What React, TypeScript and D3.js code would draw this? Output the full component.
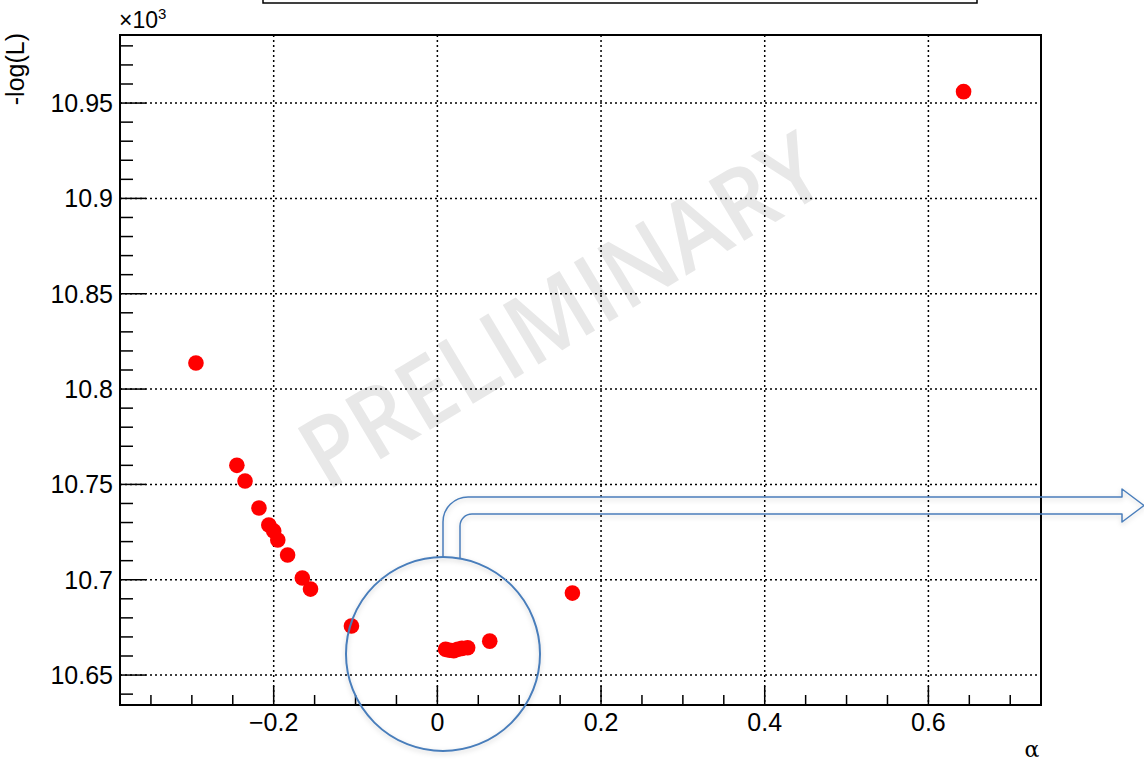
import React, { useEffect, useRef } from 'react';
import * as d3 from 'd3';

// scan points: alpha vs -log(L) (in units of 10^3)
const alphaValues = [
  0.643, -0.295, -0.245, -0.235, -0.218, -0.206, -0.2, -0.195, -0.183, -0.165, -0.155,
  -0.105, 0.165, 0.064, 0.01, 0.015, 0.02, 0.025, 0.03, 0.037,
];
const nllValues = [
  10.956, 10.8137, 10.76, 10.7518, 10.7376, 10.7287, 10.7256, 10.7208, 10.713, 10.7009, 10.6951,
  10.6757, 10.693, 10.6678, 10.6635, 10.663, 10.6628, 10.6635, 10.664, 10.6643,
];
const xTicks = [-0.2, 0, 0.2, 0.4, 0.6];
const yTicks = [10.65, 10.7, 10.75, 10.8, 10.85, 10.9, 10.95];

const W = 1144;
const H = 761;

const App = () => {
  const ref = useRef<SVGSVGElement>(null);

  useEffect(() => {
    const svg = d3.select(ref.current);
    svg.selectAll('*').remove();

    const left = 120, right = 1041, top = 35, bottom = 705;
    const x = d3.scaleLinear().domain([-0.3878, 0.7376]).range([left, right]);
    const y = d3.scaleLinear().domain([10.6343, 10.9857]).range([bottom, top]);
    const font = '"Liberation Sans", Arial, Helvetica, sans-serif';

    const defs = svg.append('defs');
    const f = defs.append('filter').attr('id', 'soft').attr('x', '-20%').attr('y', '-20%')
      .attr('width', '140%').attr('height', '140%');
    f.append('feDropShadow').attr('dx', 0).attr('dy', 2).attr('stdDeviation', 2.5)
      .attr('flood-color', '#000').attr('flood-opacity', 0.18);

    // title box, mostly off the top of the page
    svg.append('rect').attr('x', 263).attr('y', -20).attr('width', 714).attr('height', 23)
      .attr('fill', 'white').attr('stroke', '#000').attr('stroke-width', 1.5);

    // watermark
    svg.append('text')
      .attr('transform', 'translate(579,340) rotate(-31)')
      .attr('text-anchor', 'middle')
      .attr('font-family', '"Open Sans", "Liberation Sans", sans-serif')
      .attr('font-weight', 600)
      .attr('font-size', 97)
      .attr('textLength', 590)
      .attr('lengthAdjust', 'spacingAndGlyphs')
      .attr('fill', '#e8e8e8')
      .text('PRELIMINARY');

    // grid
    const grid = svg.append('g').attr('stroke', '#000').attr('stroke-width', 1.5)
      .attr('stroke-dasharray', '2 3');
    grid.selectAll('.gx').data(xTicks).join('line')
      .attr('x1', d => x(d)).attr('x2', d => x(d)).attr('y1', top).attr('y2', bottom);
    grid.selectAll('.gy').data(yTicks).join('line')
      .attr('y1', d => y(d)).attr('y2', d => y(d)).attr('x1', left).attr('x2', right);

    // ticks (inside the frame)
    const tk = svg.append('g').attr('stroke', '#000').attr('stroke-width', 1.5);
    const xMinor = d3.range(-0.35, 0.74, 0.05).map(v => +v.toFixed(2));
    tk.selectAll('.tx').data(xMinor).join('line')
      .attr('x1', d => x(d)).attr('x2', d => x(d)).attr('y1', bottom)
      .attr('y2', d => bottom - (xTicks.some(t => Math.abs(t - d) < 1e-6) ? 19 : 10));
    const yMinor = d3.range(10.64, 10.985, 0.01).map(v => +v.toFixed(2));
    tk.selectAll('.ty').data(yMinor).join('line')
      .attr('y1', d => y(d)).attr('y2', d => y(d)).attr('x1', left)
      .attr('x2', d => left + (yTicks.some(t => Math.abs(t - d) < 1e-6) ? 26 : 13));

    // frame
    svg.append('rect').attr('x', left).attr('y', top).attr('width', right - left)
      .attr('height', bottom - top).attr('fill', 'none').attr('stroke', '#000').attr('stroke-width', 2);

    // tick labels
    svg.append('g').selectAll('text').data(xTicks).join('text')
      .attr('x', d => x(d)).attr('y', 731).attr('text-anchor', 'middle')
      .attr('font-family', font).attr('font-size', 25)
      .text(d => (d < 0 ? '\u2212' + Math.abs(d) : String(d)));
    svg.append('g').selectAll('text').data(yTicks).join('text')
      .attr('x', 113).attr('y', d => y(d) + 9).attr('text-anchor', 'end')
      .attr('font-family', font).attr('font-size', 25)
      .text(d => String(d));

    // exponent
    const ex = svg.append('text').attr('x', 119).attr('y', 28)
      .attr('font-family', font).attr('font-size', 23);
    ex.append('tspan').text('\u00d710');
    ex.append('tspan').attr('font-size', 15).attr('dy', -9).text('3');

    // axis titles
    svg.append('text').attr('transform', 'translate(24,33) rotate(-90)')
      .attr('text-anchor', 'end').attr('font-family', font).attr('font-size', 25)
      .text('-log(L)');
    svg.append('text').attr('x', 1032).attr('y', 757).attr('text-anchor', 'middle')
      .attr('font-family', '"DejaVu Serif", serif').attr('font-size', 22)
      .text('\u03b1');

    // points
    svg.append('g').selectAll('circle').data(alphaValues).join('circle')
      .attr('cx', d => x(d)).attr('cy', (d, i) => y(nllValues[i]))
      .attr('r', 7.8).attr('fill', '#ff0000');

    // zoom-in annotation: circle + bent arrow
    const ann = svg.append('g').attr('fill', 'none').attr('stroke', '#4a7ebb')
      .attr('stroke-width', 2).attr('filter', 'url(#soft)');
    ann.append('circle').attr('cx', 443).attr('cy', 654).attr('r', 97);
    const p = d3.path();
    p.moveTo(443, 557);
    p.lineTo(443, 522);
    p.arcTo(443, 497, 468, 497, 25);
    p.lineTo(1122, 497);
    p.lineTo(1122, 489);
    p.lineTo(1144, 505.5);
    p.lineTo(1122, 522);
    p.lineTo(1122, 514);
    p.lineTo(472, 514);
    p.arcTo(460, 514, 460, 526, 12);
    p.lineTo(460, 558);
    ann.append('path').attr('d', p.toString()).attr('stroke-width', 1.5).attr('stroke-linejoin', 'round');
  }, []);

  return (
    <svg ref={ref} width={W} height={H}
      style={{ position: 'absolute', left: 0, top: 0, background: 'white' }} />
  );
};

export default App;
